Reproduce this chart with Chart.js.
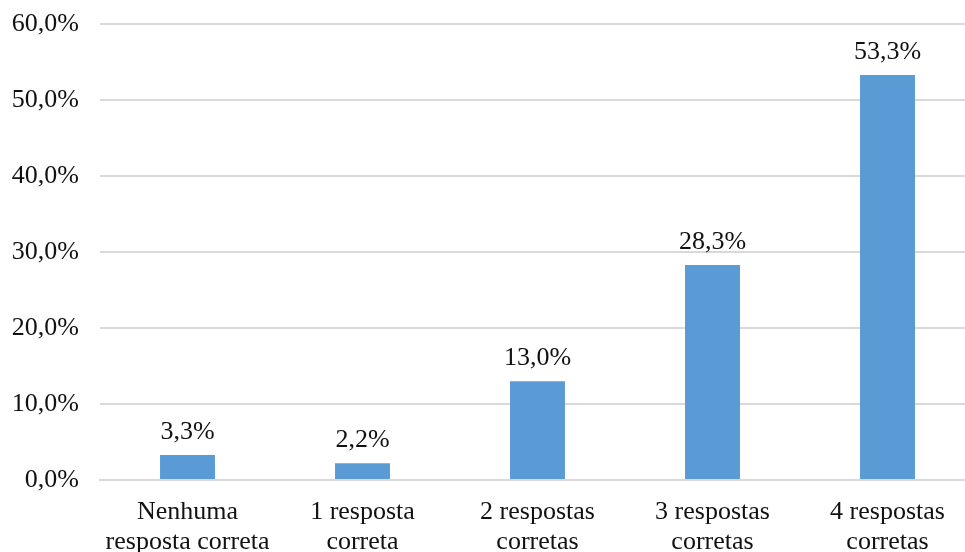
<!DOCTYPE html>
<html>
<head>
<meta charset="utf-8">
<script src="https://cdn.jsdelivr.net/npm/chart.js@4"></script>
<style>
  html, body { margin: 0; padding: 0; background: #fff; overflow: hidden; }
  #wrap { width: 975px; height: 552px; position: relative; }
</style>
</head>
<body>
<div id="wrap"><canvas id="myChart"></canvas></div>
<script>
const categories = [
  ['Nenhuma', 'resposta correta'],
  ['1 resposta', 'correta'],
  ['2 respostas', 'corretas'],
  ['3 respostas', 'corretas'],
  ['4 respostas', 'corretas']
];
const percentages = [3.3, 2.2, 13.0, 28.3, 53.3];
const yTicks = [0, 10, 20, 30, 40, 50, 60];

const fmt = v => v.toFixed(1).replace('.', ',') + '%';
const FONT = '"Liberation Serif", "Times New Roman", serif';

// writes the value above each bar
const valueLabels = {
  id: 'valueLabels',
  afterDatasetsDraw(chart) {
    const ctx = chart.ctx;
    const meta = chart.getDatasetMeta(0);
    ctx.save();
    ctx.font = '26px ' + FONT;
    ctx.fillStyle = '#111';
    ctx.textAlign = 'center';
    ctx.textBaseline = 'middle';
    meta.data.forEach((bar, i) => {
      ctx.fillText(fmt(percentages[i]), bar.x, bar.y - 23);
    });
    ctx.restore();
  }
};

new Chart(document.getElementById('myChart'), {
  type: 'bar',
  data: {
    labels: categories,
    datasets: [{
      data: percentages,
      backgroundColor: '#5B9BD5',
      barPercentage: 0.314,
      categoryPercentage: 1
    }]
  },
  options: {
    responsive: true,
    maintainAspectRatio: false,
    animation: false,
    layout: { padding: { left: 12, top: 24, right: 0, bottom: 0 } },
    plugins: {
      legend: { display: false },
      tooltip: { enabled: false }
    },
    scales: {
      x: {
        afterFit(axis) {
          axis.height = 72;
          axis.paddingLeft = 0;
          axis.paddingRight = 0;
        },
        grid: { display: false, drawTicks: false },
        border: { color: '#d9d9d9', width: 2 },
        ticks: {
          color: '#111',
          padding: 17,
          maxRotation: 0,
          autoSkip: false,
          font: { family: FONT, size: 26, lineHeight: 1.15 }
        }
      },
      y: {
        min: 0,
        max: 60,
        afterBuildTicks(axis) {
          axis.ticks = yTicks.map(v => ({ value: v }));
        },
        afterFit(axis) {
          axis.width = 88;
          axis.paddingTop = 0;
          axis.paddingBottom = 0;
        },
        grid: { color: '#d9d9d9', lineWidth: 2, drawTicks: false },
        border: { display: false },
        ticks: {
          color: '#111',
          padding: 21,
          font: { family: FONT, size: 26 },
          callback: v => fmt(v)
        }
      }
    }
  },
  plugins: [valueLabels]
});
</script>
</body>
</html>
